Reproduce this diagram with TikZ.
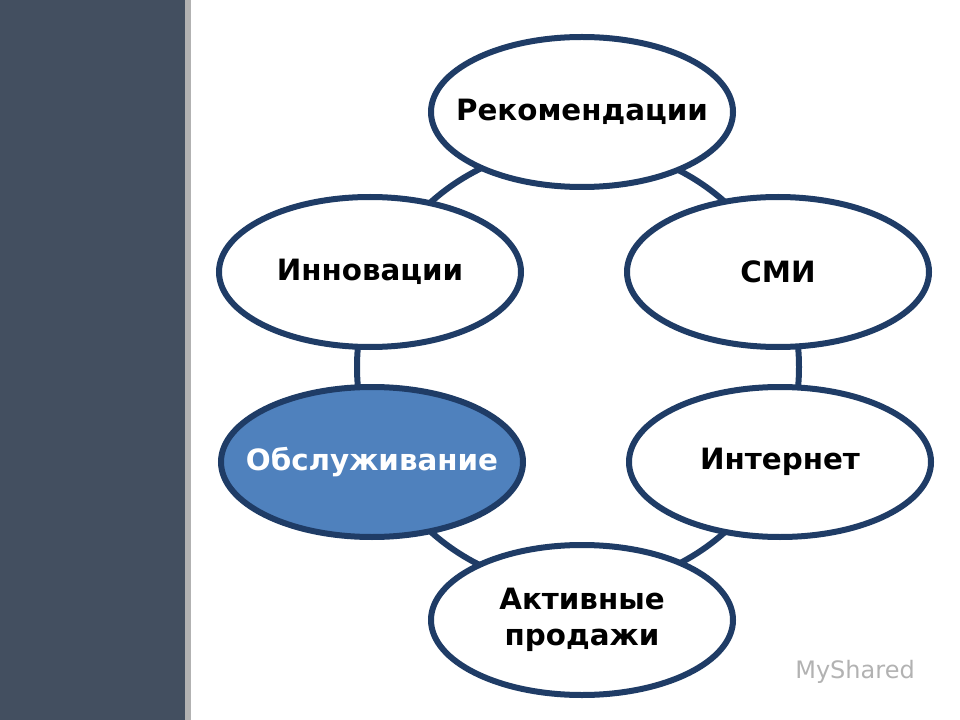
\documentclass[tikz,border=0pt]{standalone}
\usepackage{fontspec}
\setmainfont{DejaVu Sans}
\usetikzlibrary{shapes.geometric}
\definecolor{barblue}{HTML}{434F60}
\definecolor{ringblue}{HTML}{1F3C66}
\definecolor{fillblue}{HTML}{4F81BD}
\newlength{\unitpx}
\setlength{\unitpx}{0.75pt}
\tikzset{
  oval/.style={ellipse, draw=ringblue, line width=4.5pt, fill=white,
    minimum width=302\unitpx, minimum height=150\unitpx, inner sep=0pt},
  ovaltext/.style={font=\fontsize{22}{27}\selectfont\bfseries, align=center, text=black},
  ovalon/.style={oval, fill=fillblue}
}
\begin{document}
\begin{tikzpicture}[x=0.75pt, y=-0.75pt]
  % Background and side bar
  \useasboundingbox (0,0) rectangle (960,720);
  \fill[barblue] (0,0) rectangle (185,720);
  \fill[gray!60] (185,0) rectangle (191,720);
  % Ring behind the ovals
  \draw[ringblue, line width=4.5pt] (578,367) circle (221);
  % Ovals
  \node[oval, label={[ovaltext]center:Рекомендации}] (rekom) at (582,112) {};
  \node[oval, label={[ovaltext]center:СМИ}] (smi) at (778,272) {};
  \node[oval, label={[ovaltext]center:Интернет}] (inet) at (780,462) {};
  \node[oval, label={[ovaltext]center:Активные\\продажи}] (prod) at (582,620) {};
  \node[ovalon, label={[ovaltext, text=white]center:Обслуживание}] (obsl) at (372,462) {};
  \node[oval, label={[ovaltext]center:Инновации}] (innov) at (370,272) {};
  % Watermark
  \node[text=gray!60, font=\fontsize{18}{20}\selectfont] (mark) at (855,672) {MyShared};
\end{tikzpicture}
\end{document}
